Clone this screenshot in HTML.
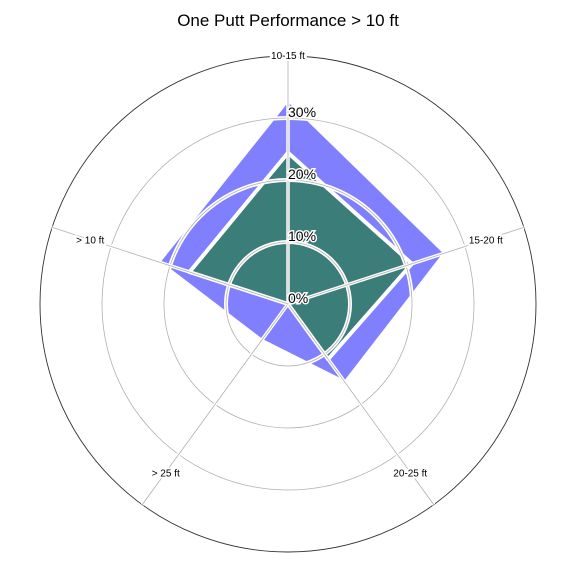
<!DOCTYPE html>
<html><head><meta charset="utf-8"><style>
html,body{margin:0;padding:0;background:#fff}
svg{display:block;font-family:"Liberation Sans",sans-serif}
</style></head><body>
<svg id="chart" width="576" height="576" viewBox="0 0 576 576">
<text x="288" y="26" text-anchor="middle" font-size="17">One Putt Performance &gt; 10 ft</text>
<g id="grid"></g><g id="series"></g><g id="overlay"></g><g id="labels"></g>
</svg>
<script>
const categories = ["10-15 ft", "15-20 ft", "20-25 ft", "> 25 ft", "> 10 ft"];
const seriesTotal = [33, 26.7, 15.7, 7.3, 22];
const seriesMade = [24.4, 21, 11, 0, 16.7];
const rTicks = [0, 10, 20, 30];
const rTickLabels = ["0%", "10%", "20%", "30%"];
const gridRings = [10, 20, 30];
const rMax = 40;

const cx = 288, cy = 304, R = 248;
const NS = "http://www.w3.org/2000/svg";
function rScale(v){ return v / rMax * R; }
function angle(i){ return (90 - i * 360 / categories.length) * Math.PI / 180; }
function pt(i, v){ const a = angle(i), r = rScale(v); return [cx + r*Math.cos(a), cy - r*Math.sin(a)]; }
function mk(tag, attrs, parent){ const e = document.createElementNS(NS, tag); for (const k in attrs) e.setAttribute(k, attrs[k]); parent.appendChild(e); return e; }
const grid = document.getElementById('grid'), series = document.getElementById('series'), overlay = document.getElementById('overlay'), labels = document.getElementById('labels');

gridRings.forEach(t => {
  const c = mk('circle', {cx: cx, cy: cy, r: rScale(t), fill: 'none', stroke: '#b0b0b0', 'stroke-width': 0.8}, grid);
  
  
});
categories.forEach((c, i) => {
  const p = pt(i, rMax);
  const l = mk('line', {x1: cx, y1: cy, x2: p[0], y2: p[1], stroke: '#b0b0b0', 'stroke-width': 0.8}, grid);
  
  
});
const outer = mk('circle', {cx: cx, cy: cy, r: R, fill: 'none', stroke: '#333', 'stroke-width': 0.9}, grid);



function poly(vals, fill, name){
  const pts = vals.map((v, i) => pt(i, v).join(',')).join(' ');
  const p = mk('polygon', {points: pts, fill: fill, stroke: '#fff', 'stroke-width': 4, 'stroke-linejoin': 'round'}, series);
  
  
}
poly(seriesTotal, '#8080ff', 'series-total-area');
poly(seriesMade, '#3b7d78', 'series-made-area');

gridRings.forEach(t => {
  const c = mk('circle', {cx: cx, cy: cy, r: rScale(t), fill: 'none', stroke: '#fff', 'stroke-width': 4}, overlay);
  
  
  const c2 = mk('circle', {cx: cx, cy: cy, r: rScale(t), fill: 'none', stroke: '#b0b0b0', 'stroke-width': 0.8}, overlay);
  
  
});
categories.forEach((c, i) => {
  const p = pt(i, rMax);
  const l = mk('line', {x1: cx, y1: cy, x2: p[0], y2: p[1], stroke: '#fff', 'stroke-width': 3.5}, overlay);
  
  
  const l2 = mk('line', {x1: cx, y1: cy, x2: p[0], y2: p[1], stroke: '#b0b0b0', 'stroke-width': 0.8}, overlay);
  
  
});

categories.forEach((c, i) => {
  const a = angle(i);
  const rr = i === 0 ? R + 1 : 208;
  const x = cx + rr*Math.cos(a), y = cy - rr*Math.sin(a) + 4;
  const t = mk('text', {x: x, y: y, 'text-anchor': 'middle', 'font-size': 10, stroke: '#fff', 'stroke-width': 4, 'paint-order': 'stroke'}, labels);
  t.textContent = c;
  
  
});
rTicks.forEach((t, i) => {
  const tx = mk('text', {x: cx, y: cy - rScale(t) - 1, 'font-size': 14, stroke: '#fff', 'stroke-width': 3, 'paint-order': 'stroke'}, labels);
  tx.textContent = rTickLabels[i];
  
  
});
</script>
</body></html>
